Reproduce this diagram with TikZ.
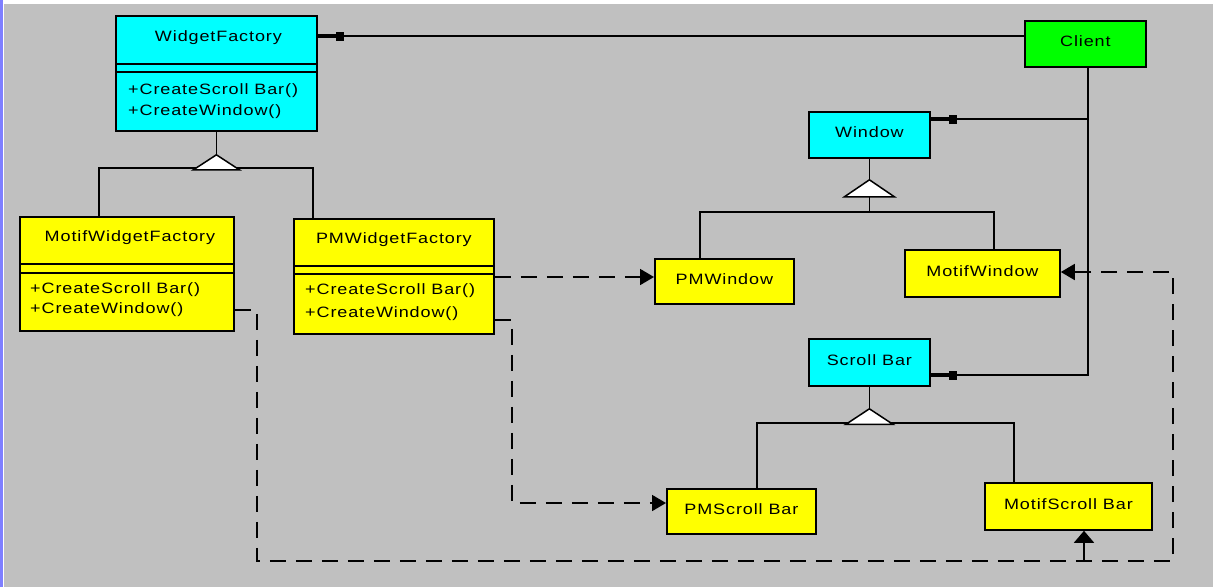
\documentclass[tikz,border=0pt]{standalone}
\usepackage{fontspec}
\setmainfont{Liberation Sans}[FakeStretch=1.2, LetterSpace=6]
\usetikzlibrary{arrows.meta,calc}

\definecolor{canvas}{HTML}{C0C0C0}
\definecolor{abstractfill}{HTML}{00FFFF}
\definecolor{concretefill}{HTML}{FFFF00}
\definecolor{clientfill}{HTML}{00FF00}
\definecolor{framestrip}{HTML}{7F7FFF}

\tikzset{
  x=1pt, y=1pt,
  umlfont/.style={font=\fontsize{15}{18}\selectfont},
  classbox/.style={draw=black, line width=1.8pt, inner sep=0pt, anchor=north west,
                   umlfont, text height=11pt, text depth=5.6pt},
  abstractbox/.style={classbox, fill=abstractfill},
  concretebox/.style={classbox, fill=concretefill},
  clientbox/.style={classbox, fill=clientfill},
  txt/.style={inner sep=0pt, umlfont},
  wire/.style={line width=1.8pt, draw=black},
  dashwire/.style={wire, dash pattern=on 16pt off 10pt},
  navi/.style={wire, -{Rectangle[length=8pt,width=9pt] Rectangle[length=18pt,width=4.5pt]}},
  dep/.style={dashwire, -{Triangle[length=14pt,width=16pt]}},
  inherit/.style={line width=1.5pt, draw=black, fill=white, line join=miter},
}

\begin{document}
\begin{tikzpicture}
% backdrop
\fill[white] (0,0) rectangle (1213,-587);
\fill[framestrip] (0,0) rectangle (2.5,-587);
\fill[canvas] (4,-4) rectangle (1213,-587);
\useasboundingbox (0,0) rectangle (1213,-587);

% ---------- classes ----------
\node[abstractbox, minimum width=201pt, minimum height=115pt] (wf) at (115,-15) {};
\node[txt, anchor=base] (wfname) at ($(wf.north)+(2,-26.5)$) {WidgetFactory};
\node[txt, anchor=base west] (wfop1) at ($(wf.north west)+(13,-79)$) {+CreateScroll Bar()};
\node[txt, anchor=base west] (wfop2) at ($(wf.north west)+(13,-100)$) {+CreateWindow()};

\node[concretebox, minimum width=214pt, minimum height=114pt] (mwf) at (19,-216) {};
\node[txt, anchor=base] (mwfname) at ($(mwf.north)+(3,-25)$) {MotifWidgetFactory};
\node[txt, anchor=base west] (mwfop1) at ($(mwf.north west)+(11,-77)$) {+CreateScroll Bar()};
\node[txt, anchor=base west] (mwfop2) at ($(mwf.north west)+(11,-97.5)$) {+CreateWindow()};

\node[concretebox, minimum width=200pt, minimum height=115pt] (pwf) at (293,-218) {};
\node[txt, anchor=base] (pwfname) at ($(pwf.north)+(0,-25)$) {PMWidgetFactory};
\node[txt, anchor=base west] (pwfop1) at ($(pwf.north west)+(12,-76.5)$) {+CreateScroll Bar()};
\node[txt, anchor=base west] (pwfop2) at ($(pwf.north west)+(12,-99)$) {+CreateWindow()};

% compartment dividers
\foreach \c/\a/\b in {wf/49/57, mwf/48/57, pwf/48/56}{
  \draw[wire] ($(\c.north west)+(0,-\a)$) -- ($(\c.north east)+(0,-\a)$);
  \draw[wire] ($(\c.north west)+(0,-\b)$) -- ($(\c.north east)+(0,-\b)$);
}

\node[clientbox, minimum width=121pt, minimum height=46pt] (client) at (1024,-20) {Client};
\node[abstractbox, minimum width=121pt, minimum height=46pt] (win) at (808,-111) {Window};
\node[concretebox, minimum width=139pt, minimum height=45pt] (pmw) at (654,-258) {PMWindow};
\node[concretebox, minimum width=155pt, minimum height=47pt] (motw) at (904,-249) {MotifWindow};
\node[abstractbox, minimum width=121pt, minimum height=47pt] (sb) at (808,-338) {Scroll Bar};
\node[concretebox, minimum width=149pt, minimum height=45pt] (pmsb) at (666,-488) {PMScroll Bar};
\node[concretebox, minimum width=167pt, minimum height=47pt] (msb) at (984,-482) {MotifScroll Bar};

% ---------- generalisation ----------
\coordinate (wfapex) at ($(wf.south)+(0,-23)$);
\draw[wire] (wf.south) -- (wfapex);
\draw[wire] (mwf.north -| 99,0) -- (99,-168) -- (313,-168) -- (pwf.north -| 313,0);
\draw[inherit] (wfapex) -- ++(23,-15) -- ++(-46,0) -- cycle;

\coordinate (winapex) at ($(win.south)+(0,-21)$);
\draw[wire] (win.south) -- (winapex);
\draw[wire] ($(winapex)+(0,-17)$) -- (win.south |- 0,-212);
\draw[wire] (pmw.north -| 700,0) -- (700,-212) -- (994,-212) -- (motw.north -| 994,0);
\draw[inherit] (winapex) -- ++(25,-17) -- ++(-50,0) -- cycle;

\coordinate (sbapex) at ($(sb.south)+(0,-22)$);
\draw[wire] (sb.south) -- (sbapex);
\draw[wire] (pmsb.north -| 757,0) -- (757,-423) -- (1014,-423) -- (msb.north -| 1014,0);
\draw[inherit] (sbapex) -- ++(23.5,-15.5) -- ++(-47,0) -- cycle;

% ---------- client associations ----------
\coordinate (clientfoot) at (client.south -| 1088,0);
\draw[navi] (client.west |- 0,-36) -- (wf.east |- 0,-36);
\draw[navi] (clientfoot) |- (win.east |- 0,-119);
\draw[navi] (clientfoot) |- (sb.east |- 0,-375);

% ---------- creation dependencies ----------
\draw[dep] (pwf.east |- 0,-277) -- (pmw.west |- 0,-277);
\draw[dep] (pwf.east |- 0,-320) -- (512,-320) -- (512,-503) -- (pmsb.west |- 0,-503);
\draw[dep] (mwf.east |- 0,-310) -- (257,-310) -- (257,-561) -- (1173,-561)
           -- (1173,-272) -- (motw.east |- 0,-272);
\coordinate (msbfoot) at (1084,-561);
\draw[wire, -{Triangle[length=12pt,width=20pt]}] (msbfoot) -- (msb.south -| msbfoot);
\end{tikzpicture}
\end{document}
